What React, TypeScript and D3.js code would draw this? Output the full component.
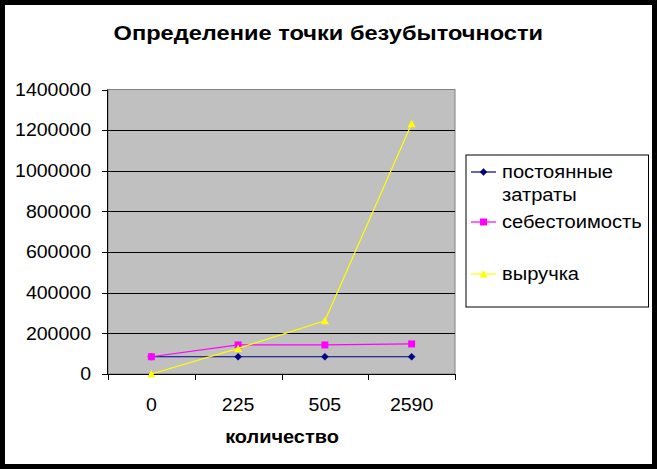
import React from "react";
import * as d3 from "d3";

const categories = ["0", "225", "505", "2590"];
const fixedCosts = [85000, 85000, 85000, 85000];
const totalCosts = [85000, 143000, 143000, 148000];
const revenue = [0, 126000, 262000, 1232000];
const yTicks = [0, 200000, 400000, 600000, 800000, 1000000, 1200000, 1400000];
const seriesNames = ["постоянные затраты", "себестоимость", "выручка"];
const seriesColors = ["#000080", "#FF00FF", "#FFFF00"];

const W = 657, H = 469;
const plot = { left: 108, right: 455, top: 89.5, bottom: 374 };
const FONT = "'Liberation Sans', Arial, sans-serif";

function SText({ x, y, sx, children, ...rest }: any) {
  return (
    <g transform={`translate(${x},${y}) scale(${sx},1)`}>
      <text x={0} y={0} {...rest}>{children}</text>
    </g>
  );
}

function Marker({ kind, x, y, color }: { kind: number; x: number; y: number; color: string }) {
  if (kind === 0) {
    const s = 3.5;
    return <path d={`M${x},${y - s}L${x + s},${y}L${x},${y + s}L${x - s},${y}Z`} fill={color} stroke={color} strokeWidth={0.5} />;
  }
  if (kind === 1) {
    return <rect x={x - 3.5} y={y - 3.5} width={7} height={7} fill={color} />;
  }
  const s = 4;
  return <path d={`M${x},${y - s}L${x + s},${y + s - 0.5}L${x - s},${y + s - 0.5}Z`} fill={color} />;
}

export default function App() {
  const x = d3.scaleBand().domain(categories).range([plot.left, plot.right]);
  const y = d3.scaleLinear().domain([0, 1400000]).range([plot.bottom, plot.top]);
  const series = [fixedCosts, totalCosts, revenue];
  const line = d3.line<number>().x((_, i) => x(categories[i])! + x.bandwidth() / 2).y((d) => y(d));
  const xTickPos = [...categories.map((c) => x(c)!), plot.right];

  const legendRows = [
    { lines: ["постоянные", "затраты"], y: 172 },
    { lines: ["себестоимость"], y: 222 },
    { lines: ["выручка"], y: 274 },
  ];

  return (
    <svg width={W} height={H} style={{ position: "absolute", left: 0, top: 0 }} fontFamily={FONT}>
      <rect x={2.5} y={2.5} width={W - 5} height={H - 5} fill="#fff" stroke="#000" strokeWidth={5} />
      <SText x={328.3} y={40} sx={1.125} textAnchor="middle" fontSize={21} fontWeight="bold">Определение точки безубыточности</SText>

      <rect x={plot.left} y={plot.top} width={plot.right - plot.left} height={plot.bottom - plot.top} fill="#C0C0C0" stroke="#808080" strokeWidth={1} />
      {yTicks.slice(1, -1).map((t) => (
        <line key={t} x1={plot.left} x2={plot.right} y1={Math.round(y(t)) + 0.5} y2={Math.round(y(t)) + 0.5} stroke="#000" strokeWidth={1} />
      ))}
      {/* y axis */}
      <line x1={plot.left - 0.5} x2={plot.left - 0.5} y1={plot.top} y2={plot.bottom} stroke="#000" />
      {yTicks.map((t) => (
        <g key={t}>
          <line x1={plot.left - 6} x2={plot.left} y1={Math.round(y(t)) + 0.5} y2={Math.round(y(t)) + 0.5} stroke="#000" />
          <SText x={91} y={y(t)} sx={1.085} dy="0.35em" textAnchor="end" fontSize={18}>{t}</SText>
        </g>
      ))}
      {/* x axis */}
      <line x1={plot.left - 0.5} x2={plot.right} y1={plot.bottom + 0.5} y2={plot.bottom + 0.5} stroke="#000" />
      {xTickPos.map((p, i) => (
        <line key={i} x1={Math.round(p) + 0.5} x2={Math.round(p) + 0.5} y1={plot.bottom} y2={plot.bottom + 6} stroke="#000" />
      ))}
      {categories.map((c) => (
        <SText key={c} x={x(c)! + x.bandwidth() / 2} y={411} sx={1.085} textAnchor="middle" fontSize={18}>{c}</SText>
      ))}
      <SText x={282} y={443} sx={1.05} textAnchor="middle" fontSize={19} fontWeight="bold">количество</SText>

      {series.map((s, k) => (
        <g key={k}>
          <path d={line(s) ?? ""} fill="none" stroke={seriesColors[k]} strokeWidth={1.2} />
          {s.map((v, i) => (
            <Marker key={i} kind={k} x={x(categories[i])! + x.bandwidth() / 2} y={y(v)} color={seriesColors[k]} />
          ))}
        </g>
      ))}

      {/* legend */}
      <rect x={466} y={155} width={182.5} height={152} fill="#fff" stroke="#000" strokeWidth={1} />
      {legendRows.map((r, k) => (
        <g key={k}>
          <line x1={471} x2={496} y1={r.y} y2={r.y} stroke={seriesColors[k]} strokeWidth={1.2} />
          <Marker kind={k} x={483.5} y={r.y} color={seriesColors[k]} />
          {r.lines.map((l, j) => (
            <SText key={j} x={502} y={r.y + j * 23} sx={1.1} dy="0.35em" fontSize={18.3}>{l}</SText>
          ))}
        </g>
      ))}
      <title>{seriesNames.join(", ")}</title>
    </svg>
  );
}
